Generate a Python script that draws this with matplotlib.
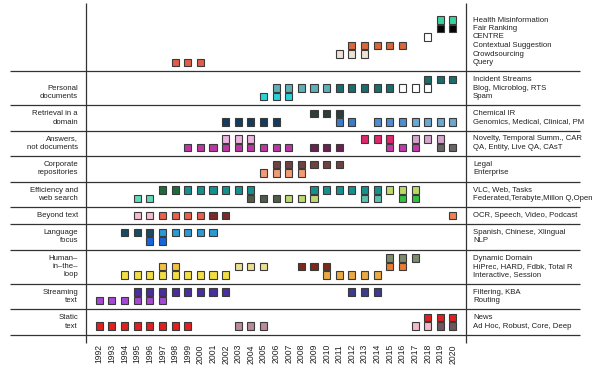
import matplotlib
matplotlib.use('Agg')
import matplotlib.pyplot as plt

years = list(range(1992, 2021))

# left label of every group and the track names (one per row) on the right
group_names = ['', 'Personal\ndocuments', 'Retrieval in a\ndomain', 'Answers,\nnot documents',
               'Corporate\nrepositories', 'Efficiency and\nweb search', 'Beyond text',
               'Language\nfocus', 'Human–\nin–the–\nloop', 'Streaming\ntext', 'Static\ntext']
group_rows = [
    ['Health Misinformation', 'Fair Ranking', 'CENTRE', 'Contextual Suggestion', 'Crowdsourcing', 'Query'],
    ['Incident Streams', 'Blog, Microblog, RTS', 'Spam'],
    ['Chemical IR', 'Genomics, Medical, Clinical, PM'],
    ['Novelty, Temporal Summ., CAR', 'QA, Entity, Live QA, CAsT'],
    ['Legal', 'Enterprise'],
    ['VLC, Web, Tasks', 'Federated,Terabyte,Millon Q,Open'],
    ['OCR, Speech, Video, Podcast'],
    ['Spanish, Chinese, Xlingual', 'NLP'],
    ['Dynamic Domain', 'HiPrec, HARD, Fdbk, Total R', 'Interactive, Session'],
    ['Filtering, KBA', 'Routing'],
    ['News', 'Ad Hoc, Robust, Core, Deep'],
]

# tracks: row they sit on, years they ran
track_row = [
    'Health Misinformation', 'Fair Ranking', 'CENTRE', 'Contextual Suggestion', 'Crowdsourcing', 'Query',
    'Incident Streams', 'Blog, Microblog, RTS', 'Blog, Microblog, RTS', 'Blog, Microblog, RTS', 'Spam',
    'Chemical IR', 'Genomics, Medical, Clinical, PM', 'Genomics, Medical, Clinical, PM',
    'Genomics, Medical, Clinical, PM', 'Genomics, Medical, Clinical, PM',
    'Novelty, Temporal Summ., CAR', 'Novelty, Temporal Summ., CAR', 'Novelty, Temporal Summ., CAR',
    'QA, Entity, Live QA, CAsT', 'QA, Entity, Live QA, CAsT', 'QA, Entity, Live QA, CAsT',
    'QA, Entity, Live QA, CAsT',
    'Legal', 'Enterprise',
    'VLC, Web, Tasks', 'VLC, Web, Tasks', 'VLC, Web, Tasks',
    'Federated,Terabyte,Millon Q,Open', 'Federated,Terabyte,Millon Q,Open', 'Federated,Terabyte,Millon Q,Open',
    'Federated,Terabyte,Millon Q,Open', 'Federated,Terabyte,Millon Q,Open',
    'OCR, Speech, Video, Podcast', 'OCR, Speech, Video, Podcast', 'OCR, Speech, Video, Podcast',
    'OCR, Speech, Video, Podcast',
    'Spanish, Chinese, Xlingual', 'Spanish, Chinese, Xlingual', 'NLP',
    'Dynamic Domain', 'HiPrec, HARD, Fdbk, Total R', 'HiPrec, HARD, Fdbk, Total R',
    'HiPrec, HARD, Fdbk, Total R', 'HiPrec, HARD, Fdbk, Total R', 'Interactive, Session', 'Interactive, Session',
    'Filtering, KBA', 'Filtering, KBA', 'Routing',
    'News', 'Ad Hoc, Robust, Core, Deep', 'Ad Hoc, Robust, Core, Deep', 'Ad Hoc, Robust, Core, Deep',
    'Ad Hoc, Robust, Core, Deep',
]
track_years = [
    [2019, 2020], [2019, 2020], [2018], [2012, 2013, 2014, 2015, 2016], [2011, 2012, 2013], [1998, 1999, 2000],
    [2018, 2019, 2020], [2006, 2007, 2008, 2009, 2010], [2011, 2012, 2013, 2014, 2015], [2016, 2017, 2018],
    [2005, 2006, 2007],
    [2009, 2010, 2011], [2002, 2003, 2004, 2005, 2006], [2011, 2012], [2014, 2015, 2016],
    [2017, 2018, 2019, 2020],
    [2002, 2003, 2004], [2013, 2014, 2015], [2017, 2018, 2019],
    [1999, 2000, 2001, 2002, 2003, 2004, 2005, 2006, 2007], [2009, 2010, 2011], [2015, 2016, 2017],
    [2019, 2020],
    [2006, 2007, 2008, 2009, 2010, 2011], [2005, 2006, 2007, 2008],
    [1997, 1998], [1999, 2000, 2001, 2002, 2003, 2004, 2009, 2010, 2011, 2012, 2013, 2014], [2015, 2016, 2017],
    [1995, 1996], [2004, 2005, 2006], [2007, 2008, 2009], [2013, 2014], [2016, 2017],
    [1995, 1996], [1997, 1998, 1999, 2000], [2001, 2002], [2020],
    [1994, 1995, 1996], [1997, 1998, 1999, 2000, 2001], [1996, 1997],
    [2015, 2016, 2017], [1997, 1998], [2003, 2004, 2005], [2008, 2009, 2010], [2015, 2016],
    [1994, 1995, 1996, 1997, 1998, 1999, 2000, 2001, 2002], [2010, 2011, 2012, 2013, 2014],
    [1995, 1996, 1997, 1998, 1999, 2000, 2001, 2002], [2012, 2013, 2014], [1992, 1993, 1994, 1995, 1996, 1997],
    [2018, 2019, 2020], [1992, 1993, 1994, 1995, 1996, 1997, 1998, 1999], [2003, 2004, 2005], [2017, 2018],
    [2019, 2020],
]
track_colors = [
    '#36d3a0', '#050505', '#ffffff', '#d8673a', '#eee2d6', '#e15d48',
    '#1d6c6c', '#5fb0b4', '#1b6d6b', '#ffffff', '#27d4dc',
    '#2e3c3a', '#143c5e', '#3c7cc6', '#4c8ed0', '#6aa8d4',
    '#ebb3de', '#e2266c', '#d3a3cb',
    '#bb37a3', '#6e2052', '#c13aaa', '#6a6468',
    '#6f4242', '#f29a74',
    '#1f6a3c', '#15908f', '#bcd968',
    '#62d8b8', '#505c4a', '#bcd970', '#5cc0aa', '#33c23f',
    '#f5bccb', '#e9604b', '#7a2b2d', '#f08152',
    '#1a4b63', '#2b9ad4', '#1765dd',
    '#7d8a6c', '#f1c23f', '#ebde92', '#7b2a1a', '#e97d31', '#f2dd43', '#e9a944',
    '#4b2e9d', '#3e3b8d', '#a548d8',
    '#e1201f', '#e1201f', '#bb8a9a', '#f2bacb', '#6e5560',
]

fam = 'Liberation Sans'
fs = 5.6
ink = '#222222'

# layout, in pixels of the 596x371 picture
px_year = 12.63
px_row = 8.5
x0 = 99.3   # pixel of 1992
y0 = 20.0   # pixel of first row


def xd(px):
    return 1992 + (px - x0) / px_year


def yd(px):
    return (px - y0) / px_row


row_y = {}
sep_y = []
r = 0
for rows in group_rows:
    for name in rows:
        row_y[name] = r
        r += 1
    sep_y.append(r)
    r += 1

fig = plt.figure(figsize=(5.96, 3.71), dpi=100)
ax = fig.add_axes([0, 0, 1, 1])
ax.set_xlim(xd(0), xd(596))
ax.set_ylim(yd(371), yd(0))
ax.axis('off')

ax.hlines(sep_y, xd(10), xd(580), color='#333333', linewidth=0.9)
ax.vlines([xd(86), xd(465.7)], yd(3), yd(343), color='#333333', linewidth=0.9)

for row, yrs, c in zip(track_row, track_years, track_colors):
    y = row_y[row]
    ax.bar(yrs, 0.94, bottom=y - 0.47, width=0.56, color=c,
           edgecolor='#3a3a3a', linewidth=0.8, zorder=3)

for label, rows in zip(group_names, group_rows):
    if not label:
        continue
    lines = label.split('\n')
    for line, name in zip(lines, rows[len(rows) - len(lines):]):
        ax.text(xd(78), row_y[name], line, ha='right', va='center',
                fontsize=fs, family=fam, color=ink)

for rows in group_rows:
    for name in rows:
        ax.text(xd(473), row_y[name], name, ha='left', va='center',
                fontsize=fs, family=fam, color=ink)

for yr in years:
    ax.text(yr, yd(344), str(yr), rotation=90, ha='center', va='top',
            fontsize=6.2, family=fam, color=ink)

fig.savefig('out.png', dpi=100)
